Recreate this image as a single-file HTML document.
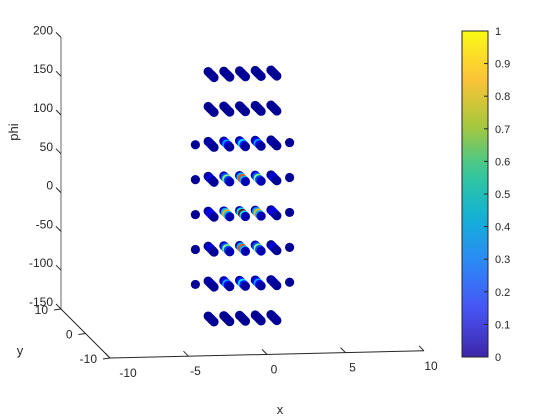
<!DOCTYPE html>
<html><head><meta charset="utf-8"><style>
body{margin:0;background:#fff;}
svg{display:block;font-family:"Liberation Sans",sans-serif;}
</style></head><body>
<svg id="chart" width="560" height="420" viewBox="0 0 560 420">
<rect width="560" height="420" fill="#fff"/>
<g id="axes"></g>
<g id="marks"></g>
<g id="cbar"></g>
<text x="18" y="132" font-size="13" fill="#262626" text-anchor="middle" transform="rotate(-90 18 132)">phi</text>
<text x="20" y="355" font-size="13" fill="#262626" text-anchor="middle">y</text>
<text x="280" y="414" font-size="13" fill="#262626" text-anchor="middle">x</text>
</svg>
<script>
const phiLayers=[-135,-90,-45,0,45,90,135,180];
const xTicks=[-10,-5,0,5,10];
const yTicks=[-10,0,10];
const zTicks=[-150,-100,-50,0,50,100,150,200];
const cTicks=[0,0.1,0.2,0.3,0.4,0.5,0.6,0.7,0.8,0.9,1];
const strokeY=[-1.2,-0.6,0,0.6,1.2];
const layerXs=[[-2,-1,0,1,2],[-3,-2,-1,0,1,2,3],[-3,-2,-1,0,1,2,3],[-3,-2,-1,0,1,2,3],[-3,-2,-1,0,1,2,3],[-3,-2,-1,0,1,2,3],[-2,-1,0,1,2],[-2,-1,0,1,2]];
const vLow=[0.02,0.02,0.02,0.02,0.02];
const vM90=[[0.02],[0.02,0.03,0.05,0.03,0.02],[0.03,0.12,0.28,0.12,0.03],[0.03,0.15,0.35,0.15,0.03],[0.03,0.12,0.28,0.12,0.03],[0.02,0.03,0.05,0.03,0.02],[0.02]];
const vM45=[[0.02],[0.02,0.05,0.1,0.05,0.02],[0.05,0.2,0.5,0.2,0.05],[0.05,0.3,0.8,0.3,0.05],[0.05,0.2,0.5,0.2,0.05],[0.02,0.05,0.1,0.05,0.02],[0.02]];
const v0=[[0.02],[0.02,0.08,0.12,0.08,0.02],[0.05,0.3,0.7,0.3,0.05],[0.05,0.35,1.0,0.35,0.05],[0.05,0.3,0.7,0.3,0.05],[0.02,0.08,0.12,0.08,0.02],[0.02]];
const layerVals=[[vLow,vLow,vLow,vLow,vLow],vM90,vM45,v0,vM45,vM90,[vLow,vLow,vLow,vLow,vLow],[vLow,vLow,vLow,vLow,vLow]];

const NS="http://www.w3.org/2000/svg";
function el(t,a,p){const e=document.createElementNS(NS,t);for(const k in a)e.setAttribute(k,a[k]);p.appendChild(e);return e;}
function proj(x,y,z){return [110+(x+10)*15.7-(y+10)*2.45, 358-(x+10)*0.36-(y+10)*2.45-(z+150)*0.776];}
const parula=[[0.2422,0.1504,0.6603],[0.2810,0.3228,0.9579],[0.1786,0.5289,0.9682],[0.0689,0.6948,0.8394],[0.2161,0.7843,0.5923],[0.6720,0.7793,0.2227],[0.9970,0.7659,0.2199],[0.9769,0.9839,0.0805]];
function cmap(v){v=Math.max(0,Math.min(1,v));const f=v*(parula.length-1),i=Math.min(Math.floor(f),parula.length-2),t=f-i;const c=parula[i].map((a,k)=>Math.round(255*(a+(parula[i+1][k]-a)*t)));return `rgb(${c})`;}
function jet(v){
  v=Math.max(0,Math.min(1,v));
  const r=Math.min(4*v-1.5,-4*v+4.5),g=Math.min(4*v-0.5,-4*v+3.5),b=Math.min(4*v+0.5,-4*v+2.5);
  const c=[r,g,b].map(a=>Math.round(255*Math.max(0,Math.min(1,a))));return `rgb(${c})`;}

const ax=document.getElementById('axes');
let a=proj(-10,10,-150),b=proj(-10,10,200);
let l=el('line',{x1:a[0],y1:a[1],x2:b[0],y2:b[1],stroke:'#808080','stroke-width':1.2},ax);

b=proj(-10,-10,-150);
l=el('line',{x1:a[0],y1:a[1],x2:b[0],y2:b[1],stroke:'#262626','stroke-width':1},ax);

a=proj(10,-10,-150);
l=el('line',{x1:b[0],y1:b[1],x2:a[0],y2:a[1],stroke:'#262626','stroke-width':1},ax);

zTicks.forEach(z=>{const p=proj(-10,10,z);
  const t=el('line',{x1:p[0],y1:p[1],x2:p[0]-5,y2:p[1]-5,stroke:'#262626'},ax);
  
  const s=el('text',{x:p[0]-8,y:p[1]-3,'font-size':12,fill:'#262626','text-anchor':'end'},ax);s.textContent=z;
  });
yTicks.forEach(y=>{const p=proj(-10,y,-150);
  const t=el('line',{x1:p[0],y1:p[1],x2:p[0]-7,y2:p[1]+1,stroke:'#262626'},ax);
  
  const s=el('text',{x:p[0]-13,y:p[1]+5,'font-size':12,fill:'#262626','text-anchor':'end'},ax);s.textContent=y;
  });
xTicks.forEach(x=>{const p=proj(x,-10,-150);
  const t=el('line',{x1:p[0],y1:p[1],x2:p[0]-5,y2:p[1]-5,stroke:'#262626'},ax);
  
  const s=el('text',{x:p[0]+(x===-10?18:7),y:p[1]+19,'font-size':12,fill:'#262626','text-anchor':'middle'},ax);s.textContent=x;
  });

const mk=document.getElementById('marks');
const pts=[];
phiLayers.forEach((phi,li)=>{layerXs[li].forEach((x,xi)=>{const vals=layerVals[li][xi];
  const ys=vals.length===1?[0]:strokeY;
  ys.forEach((y,yi)=>pts.push({x,y,phi,v:vals[yi]}));});});
pts.sort((p,q)=>q.y-p.y);
pts.forEach(p=>{const s=proj(p.x,p.y,p.phi);
  const c=el('circle',{cx:s[0],cy:s[1],r:4.6,fill:jet(p.v)},mk);
  });

const cb=document.getElementById('cbar');
const cx=462,cy0=31,cy1=357,cw=26;
const defs=el('defs',{},cb);
const g=el('linearGradient',{id:'pg',x1:0,y1:1,x2:0,y2:0},defs);
for(let i=0;i<=20;i++)el('stop',{offset:i/20,'stop-color':cmap(i/20)},g);
const r=el('rect',{x:cx,y:cy0,width:cw,height:cy1-cy0,fill:'url(#pg)',stroke:'#262626','stroke-width':1},cb);

cTicks.forEach(v=>{const y=cy1-v*(cy1-cy0);
  const t=el('line',{x1:cx+cw-4,y1:y,x2:cx+cw,y2:y,stroke:'#262626'},cb);
  
  const s=el('text',{x:cx+cw+7,y:y+4,'font-size':11,fill:'#262626'},cb);s.textContent=v;
  });
</script>
</body></html>
